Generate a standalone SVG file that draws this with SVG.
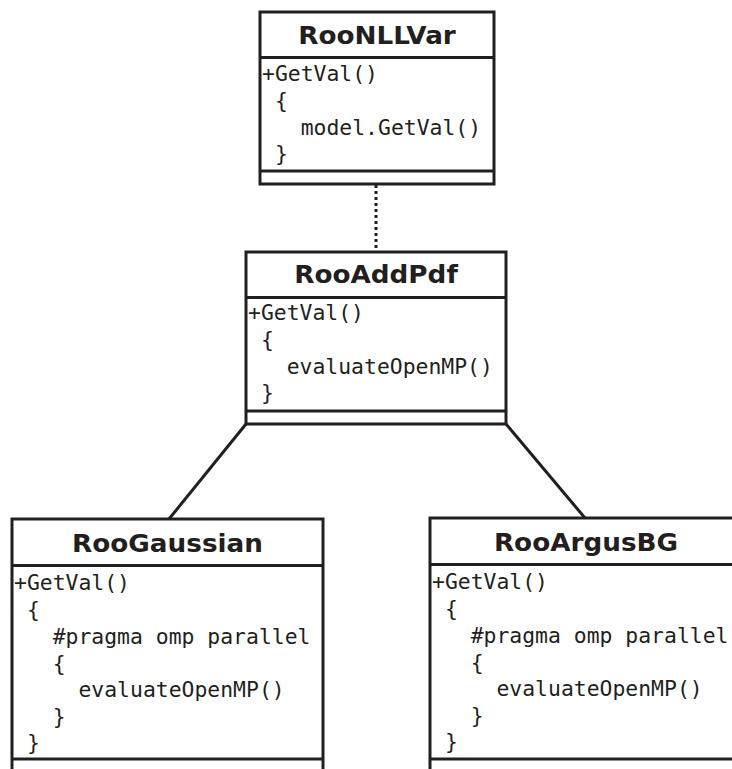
<svg xmlns="http://www.w3.org/2000/svg" width="732" height="769" viewBox="0 0 732 769">
  <style>
    .box { fill: #ffffff; stroke: #231f20; stroke-width: 3; }
    .sep { stroke: #231f20; stroke-width: 3; }
    .title { font-family: "DejaVu Sans", sans-serif; font-weight: bold; font-size: 25.5px; fill: #231f20; text-anchor: middle; }
    .code { font-family: "DejaVu Sans Mono", monospace; font-size: 20.5px; fill: #231f20; white-space: pre; }
    .link { stroke: #231f20; stroke-width: 3; fill: none; }
    .dep { stroke: #231f20; stroke-width: 3; fill: none; stroke-dasharray: 3 3; }
  </style>
  <rect width="732" height="769" fill="#ffffff"/>

  <g id="connectors">
    <line class="dep" x1="376" y1="185" x2="376" y2="251"/>
    <line class="link" x1="246" y1="424" x2="169" y2="519"/>
    <line class="link" x1="506" y1="424" x2="585" y2="518"/>
  </g>

  <g id="RooNLLVar">
    <rect class="box" x="260" y="12" width="234" height="172"/>
    <line class="sep" x1="260" y1="57.5" x2="494" y2="57.5"/>
    <line class="sep" x1="260" y1="171" x2="494" y2="171"/>
    <text class="title" x="377" y="44" transform="translate(377,0) scale(1.03,1) translate(-377,0)">RooNLLVar</text>
    <g transform="translate(262,0) scale(1.045,1)">
      <text class="code" xml:space="preserve" x="0" y="81">+GetVal()</text>
      <text class="code" xml:space="preserve" x="0" y="108"> {</text>
      <text class="code" xml:space="preserve" x="0" y="135">   model.GetVal()</text>
      <text class="code" xml:space="preserve" x="0" y="161"> }</text>
    </g>
  </g>

  <g id="RooAddPdf">
    <rect class="box" x="246" y="252" width="260" height="172"/>
    <line class="sep" x1="246" y1="297.5" x2="506" y2="297.5"/>
    <line class="sep" x1="246" y1="411" x2="506" y2="411"/>
    <text class="title" x="376" y="283" transform="translate(376,0) scale(1.03,1) translate(-376,0)">RooAddPdf</text>
    <g transform="translate(248,0) scale(1.045,1)">
      <text class="code" xml:space="preserve" x="0" y="320">+GetVal()</text>
      <text class="code" xml:space="preserve" x="0" y="347"> {</text>
      <text class="code" xml:space="preserve" x="0" y="374">   evaluateOpenMP()</text>
      <text class="code" xml:space="preserve" x="0" y="400"> }</text>
    </g>
  </g>

  <g id="RooGaussian">
    <rect class="box" x="12" y="519" width="311" height="270"/>
    <line class="sep" x1="12" y1="565.5" x2="323" y2="565.5"/>
    <line class="sep" x1="12" y1="759" x2="323" y2="759"/>
    <text class="title" x="167.5" y="552" transform="translate(167.5,0) scale(1.03,1) translate(-167.5,0)">RooGaussian</text>
    <g transform="translate(14,0) scale(1.045,1)">
      <text class="code" xml:space="preserve" x="0" y="590">+GetVal()</text>
      <text class="code" xml:space="preserve" x="0" y="617"> {</text>
      <text class="code" xml:space="preserve" x="0" y="644">   #pragma omp parallel</text>
      <text class="code" xml:space="preserve" x="0" y="671">   {</text>
      <text class="code" xml:space="preserve" x="0" y="697">     evaluateOpenMP()</text>
      <text class="code" xml:space="preserve" x="0" y="724">   }</text>
      <text class="code" xml:space="preserve" x="0" y="750"> }</text>
    </g>
  </g>

  <g id="RooArgusBG">
    <rect class="box" x="430" y="518" width="312" height="271"/>
    <line class="sep" x1="430" y1="564.5" x2="742" y2="564.5"/>
    <line class="sep" x1="430" y1="759" x2="742" y2="759"/>
    <text class="title" x="586" y="551" transform="translate(586,0) scale(1.03,1) translate(-586,0)">RooArgusBG</text>
    <g transform="translate(432,0) scale(1.045,1)">
      <text class="code" xml:space="preserve" x="0" y="589">+GetVal()</text>
      <text class="code" xml:space="preserve" x="0" y="616"> {</text>
      <text class="code" xml:space="preserve" x="0" y="643">   #pragma omp parallel</text>
      <text class="code" xml:space="preserve" x="0" y="670">   {</text>
      <text class="code" xml:space="preserve" x="0" y="696">     evaluateOpenMP()</text>
      <text class="code" xml:space="preserve" x="0" y="723">   }</text>
      <text class="code" xml:space="preserve" x="0" y="749"> }</text>
    </g>
  </g>
</svg>
